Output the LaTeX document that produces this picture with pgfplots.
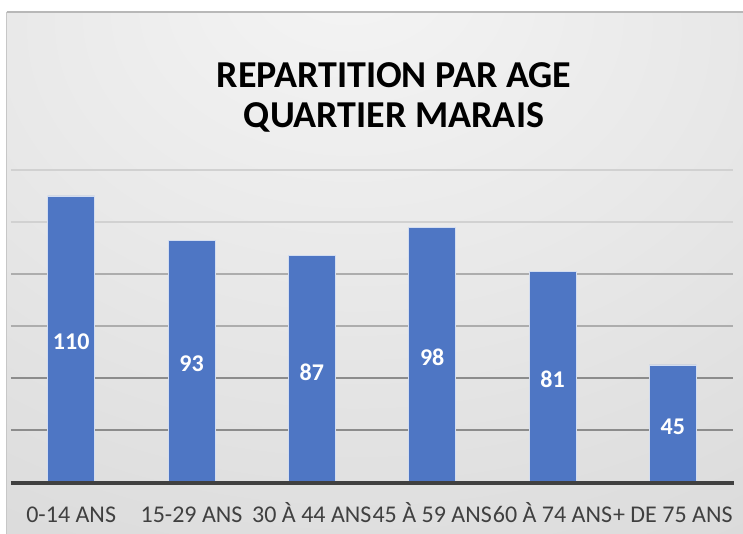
\documentclass[border=0pt]{standalone}
\usepackage{fontspec}
\setmainfont{Carlito}
\usepackage{pgfplots}
\pgfplotsset{compat=1.18}
\definecolor{barblue}{HTML}{4E76C4}
\definecolor{ticktext}{HTML}{404040}
\definecolor{bgA}{HTML}{F5F5F5}
\definecolor{bgB}{HTML}{E8E8E8}
\definecolor{bgC}{HTML}{DADADA}
\definecolor{bgD}{HTML}{CFCFCF}
\pgfdeclareradialshading{bgshade}{\pgfpoint{-2bp}{30bp}}{color(0bp)=(bgA); color(25bp)=(bgB); color(50bp)=(bgC); color(100bp)=(bgD)}
\begin{document}
\begin{tikzpicture}
\path[use as bounding box] (-11bp,-52bp) rectangle (732bp,482bp);
\fill[white] (-11bp,-52bp) rectangle (732bp,482bp);
\shade[shading=bgshade] (-4bp,-52bp) rectangle (736bp,470bp);
\draw[black!22, line width=1bp] (-4bp,-60bp) -- (-4bp,470bp);
\draw[black!28, line width=1.6bp] (-4bp,470bp) -- (740bp,470bp);
\begin{axis}[
  at={(0,0)}, anchor=south west,
  scale only axis, width=722bp, height=312bp,
  xmin=-0.5, xmax=5.5, ymin=0, ymax=120,
  ybar, bar width=47bp,
  /pgf/number format/assume math mode=true,
  axis x line*=bottom, axis y line*=left,
  axis line style={draw=none},
  major tick length=0pt, minor tick length=0pt,
  xtick={0,1,2,3,4,5},
  xticklabels={0-14 ANS, 15-29 ANS, 30 À 44 ANS, 45 À 59 ANS, 60 À 74 ANS, + DE 75 ANS},
  xticklabel style={font=\fontsize{24bp}{28bp}\selectfont, text=ticktext, anchor=base, yshift=-40bp},
  ytick={20,40}, minor ytick={60,80}, extra y ticks={100,120},
  yticklabels={}, extra y tick labels={},
  ymajorgrids, yminorgrids,
  major grid style={draw=black!45, line width=1.6bp},
  minor grid style={draw=black!32, line width=1.6bp},
  extra y tick style={grid=major, major grid style={draw=black!18, line width=1.6bp}},
  title={REPARTITION PAR AGE\\QUARTIER MARAIS},
  title style={align=center, font=\bfseries\fontsize{38bp}{40bp}\selectfont, at={(axis description cs:0.5305,1.215)}, anchor=center},
  clip=false,
]
\addplot[fill=barblue, draw=white!75!barblue, line width=0.6bp,
  nodes near coords,
  visualization depends on={rawy \as \rawy},
  every node near coord/.append style={anchor=center, text=white, font=\bfseries\fontsize{24bp}{28bp}\selectfont, shift={(axis direction cs:0,-\rawy/2)}, yshift=-3bp}]
  coordinates {(0,110) (1,93) (2,87) (3,98) (4,81) (5,45)};
\draw[line width=3.5bp, draw=ticktext] (axis cs:-0.5,-0.3) -- (axis cs:5.51,-0.3);
\end{axis}
\end{tikzpicture}
\end{document}
